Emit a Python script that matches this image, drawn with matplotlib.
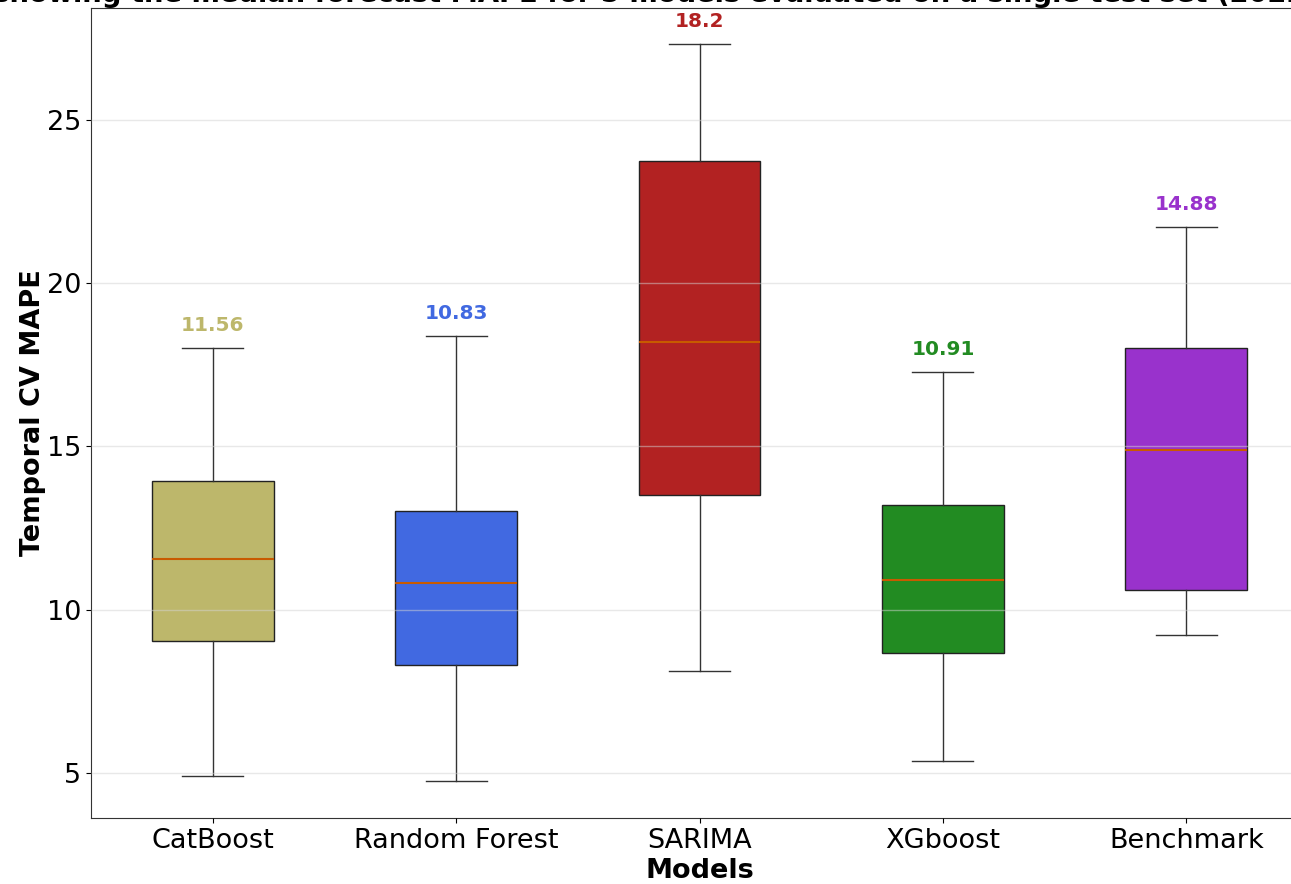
import matplotlib
matplotlib.use("Agg")
import matplotlib.pyplot as plt

models = ["CatBoost", "Random Forest", "SARIMA", "XGboost", "Benchmark"]
colors = ["darkkhaki", "royalblue", "firebrick", "forestgreen", "darkorchid"]

# box summary per model (MAPE, %)
whislo = [4.91, 4.75, 8.12, 5.37, 9.23]
q1 = [9.04, 8.31, 13.51, 8.68, 10.60]
med = [11.56, 10.83, 18.2, 10.91, 14.88]
q3 = [13.94, 13.02, 23.74, 13.21, 18.02]
whishi = [18.02, 18.38, 27.33, 17.28, 21.72]

title = "Boxplot showing the median forecast MAPE for 5 models evaluated on a single test set (2022)"

stats = []
for i, name in enumerate(models):
    stats.append({"label": name, "whislo": whislo[i], "q1": q1[i], "med": med[i],
                  "q3": q3[i], "whishi": whishi[i], "fliers": []})

W, H = 1291, 884
fig = plt.figure(figsize=(W / 100, H / 100), dpi=100)
ax = fig.add_axes([91 / W, 66 / H, 1217 / W, 810 / H])

bp = ax.bxp(stats, positions=range(1, 6), widths=0.5, patch_artist=True,
            medianprops=dict(color="#c85a00", linewidth=1.5),
            whiskerprops=dict(color="#333333", linewidth=1),
            capprops=dict(color="#333333", linewidth=1),
            boxprops=dict(edgecolor="#222222", linewidth=1))
for patch, c in zip(bp["boxes"], colors):
    patch.set_facecolor(c)

for i in range(5):
    ax.text(i + 1, whishi[i] + 0.4, str(med[i]), ha="center", va="bottom",
            fontsize=14.5, fontweight="bold", color=colors[i])

ax.set_xlim(0.5, 5.5)
ax.set_ylim(3.62, 28.43)
ax.set_yticks([5, 10, 15, 20, 25])
ax.yaxis.grid(True, color="lightgray", alpha=0.5, linewidth=1)
ax.set_axisbelow(False)
ax.tick_params(labelsize=19.5)
for s in ax.spines.values():
    s.set_color("#333333")

ax.set_xlabel("Models", fontsize=19.5, fontweight="bold", labelpad=3)
ax.set_ylabel("Temporal CV MAPE", fontsize=19.5, fontweight="bold", labelpad=1)

# title runs wider than the canvas; place it so "showing" starts at the left edge
renderer = fig.canvas.get_renderer()
probe = fig.text(0, 0, "Boxplot ", fontsize=19.7, fontweight="bold")
pre_w = probe.get_window_extent(renderer).width
probe.remove()
fig.text((-7 - pre_w) / W, 1 - 2 / H, title, ha="left", va="baseline",
         fontsize=19.7, fontweight="bold")

fig.savefig("out.png", dpi=100)
